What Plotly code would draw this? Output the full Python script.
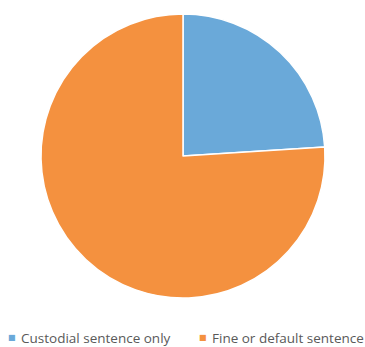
import plotly.graph_objects as go

labels = ["Custodial sentence only", "Fine or default sentence"]
values = [24, 76]
colors = ["#6AA9D9", "#F4913F"]

fig = go.Figure(go.Pie(
    labels=labels, values=values, sort=False, direction="clockwise", rotation=0,
    marker=dict(colors=colors, line=dict(color="white", width=1.5)),
    textinfo="none", hoverinfo="label+percent", showlegend=False,
    domain=dict(x=[41/365, 325/365], y=[49/347, 333/347]),
))

# legend drawn as annotations (marker + label)
legend_x = [12, 203]
legend_y = 337
for lab, col, lx in zip(labels, colors, legend_x):
    fig.add_annotation(x=lx / 365, y=1 - legend_y / 347, xref="paper", yref="paper",
                       text="■", showarrow=False, xanchor="center", yanchor="middle",
                       font=dict(family="DejaVu Sans", size=8, color=col))
    fig.add_annotation(x=(lx + 7) / 365, y=1 - (legend_y + 1) / 347, xref="paper", yref="paper",
                       text=lab, showarrow=False, xanchor="left", yanchor="middle",
                       font=dict(family="Open Sans", size=13.5, color="#595959"))

fig.update_layout(
    width=365, height=347, margin=dict(l=0, r=0, t=0, b=0),
    paper_bgcolor="white", plot_bgcolor="white",
)
fig.write_html("out.html", config={"displayModeBar": False},
               post_script="document.body.style.margin='0';document.body.style.overflow='hidden';")
